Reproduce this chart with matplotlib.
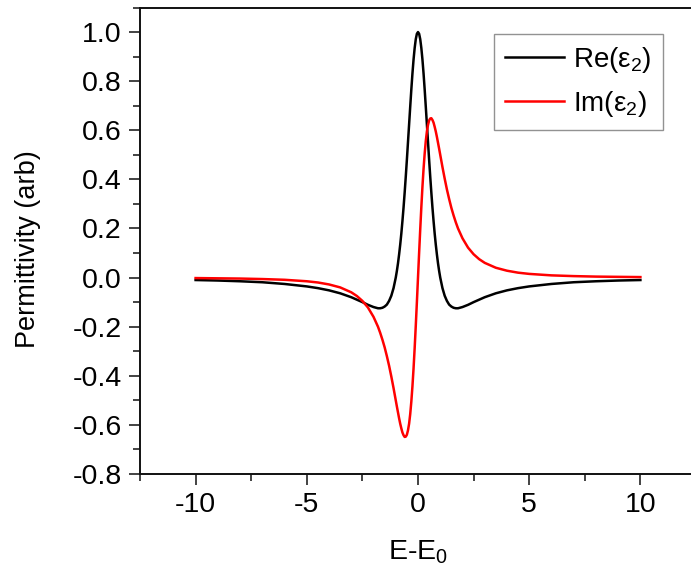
import matplotlib
matplotlib.use("Agg")
import matplotlib.pyplot as plt
from matplotlib.ticker import MultipleLocator, FormatStrFormatter

plt.rcParams["font.family"] = ["Liberation Sans", "DejaVu Sans"]
plt.rcParams["mathtext.fontset"] = "custom"
plt.rcParams["mathtext.rm"] = "Liberation Sans"
plt.rcParams["mathtext.it"] = "Liberation Sans:italic"
plt.rcParams["mathtext.bf"] = "Liberation Sans:bold"
plt.rcParams["axes.unicode_minus"] = False

# Energy offset E - E0
energy = [-10.0, -9.0, -8.0, -7.0, -6.0, -5.0, -4.5, -4.0, -3.5, -3.0, -2.75, -2.5,
          -2.25, -2.0, -1.8, -1.7, -1.6, -1.5, -1.4, -1.3, -1.2, -1.1, -1.0, -0.95,
          -0.9, -0.85, -0.8, -0.75, -0.7, -0.65, -0.6, -0.55, -0.5, -0.45, -0.4,
          -0.35, -0.3, -0.25, -0.2, -0.15, -0.1, -0.05,
          0.0, 0.05, 0.1, 0.15, 0.2, 0.25, 0.3, 0.35, 0.4, 0.45, 0.5, 0.55, 0.6,
          0.65, 0.7, 0.75, 0.8, 0.85, 0.9, 0.95, 1.0, 1.1, 1.2, 1.3, 1.4, 1.5, 1.6,
          1.7, 1.8, 2.0, 2.25, 2.5, 2.75, 3.0, 3.5, 4.0, 4.5, 5.0, 6.0, 7.0, 8.0,
          9.0, 10.0]

# Real part of the permittivity
re_eps = [-0.010, -0.012, -0.015, -0.019, -0.026, -0.036, -0.043, -0.052, -0.064,
          -0.080, -0.090, -0.100, -0.111, -0.120, -0.125, -0.125, -0.123, -0.118,
          -0.110, -0.095, -0.074, -0.043, 0.0, 0.027, 0.058, 0.094, 0.134, 0.179,
          0.230, 0.285, 0.346, 0.411, 0.480, 0.552, 0.624, 0.696, 0.766, 0.831,
          0.888, 0.935, 0.971, 0.993,
          1.0, 0.993, 0.971, 0.935, 0.888, 0.831, 0.766, 0.696, 0.624, 0.552, 0.480,
          0.411, 0.346, 0.285, 0.230, 0.179, 0.134, 0.094, 0.058, 0.027, 0.0, -0.043,
          -0.074, -0.095, -0.110, -0.118, -0.123, -0.125, -0.125, -0.120, -0.111,
          -0.100, -0.090, -0.080, -0.064, -0.052, -0.043, -0.036, -0.026, -0.019,
          -0.015, -0.012, -0.010]

# Imaginary part of the permittivity
im_eps = [-0.002, -0.003, -0.004, -0.006, -0.009, -0.015, -0.020, -0.028, -0.040,
          -0.060, -0.075, -0.095, -0.122, -0.160, -0.200, -0.225, -0.253, -0.284,
          -0.320, -0.359, -0.403, -0.450, -0.500, -0.525, -0.549, -0.573, -0.595,
          -0.614, -0.631, -0.642, -0.649, -0.648, -0.640, -0.622, -0.595, -0.556,
          -0.505, -0.443, -0.370, -0.287, -0.196, -0.100,
          0.0, 0.100, 0.196, 0.287, 0.370, 0.443, 0.505, 0.556, 0.595, 0.622, 0.640,
          0.648, 0.649, 0.642, 0.631, 0.614, 0.595, 0.573, 0.549, 0.525, 0.500, 0.450,
          0.403, 0.359, 0.320, 0.284, 0.253, 0.225, 0.200, 0.160, 0.122, 0.095, 0.075,
          0.060, 0.040, 0.028, 0.020, 0.015, 0.009, 0.006, 0.004, 0.003, 0.002]

W, H = 691, 573
fig = plt.figure(figsize=(W / 100, H / 100), dpi=100)
ax = fig.add_axes([140 / W, 1 - 474 / H, 556 / W, (474 - 7.5) / H])

ax.plot(energy, re_eps, color="black", lw=1.8, label="Re(ε$_2$)")
ax.plot(energy, im_eps, color="red", lw=1.8, label="Im(ε$_2$)")

ax.set_xlim(-12.5, 12.5)
ax.set_ylim(-0.8, 1.1)
ax.xaxis.set_major_locator(MultipleLocator(5))
ax.xaxis.set_minor_locator(MultipleLocator(2.5))
ax.yaxis.set_major_locator(MultipleLocator(0.2))
ax.yaxis.set_minor_locator(MultipleLocator(0.1))
ax.yaxis.set_major_formatter(FormatStrFormatter("%.1f"))

ax.tick_params(which="both", direction="out", top=False, right=False,
               labelsize=20.5, width=1.2, color="#222222")
ax.tick_params(which="major", length=8, pad=5)
ax.tick_params(which="minor", length=5)
for s in ax.spines.values():
    s.set_linewidth(1.4)
    s.set_color("#111111")

ax.set_xlabel("E-E$_0$", fontsize=20.5, va="center")
ax.set_ylabel("Permittivity (arb)", fontsize=19.5, va="center")
ax.xaxis.set_label_coords(418 / W, 1 - 552 / H, transform=fig.transFigure)
ax.yaxis.set_label_coords(28 / W, 1 - 249 / H, transform=fig.transFigure)

leg = ax.legend(loc="upper right", bbox_to_anchor=(663 / W, 1 - 34 / H),
                bbox_transform=fig.transFigure, fontsize=20, frameon=True,
                fancybox=False, edgecolor="#777777", borderaxespad=0,
                handlelength=2.15, handletextpad=0.32, borderpad=0.4,
                labelspacing=0.5)
leg.get_frame().set_linewidth(1.0)

fig.savefig("out.png", dpi=100)
